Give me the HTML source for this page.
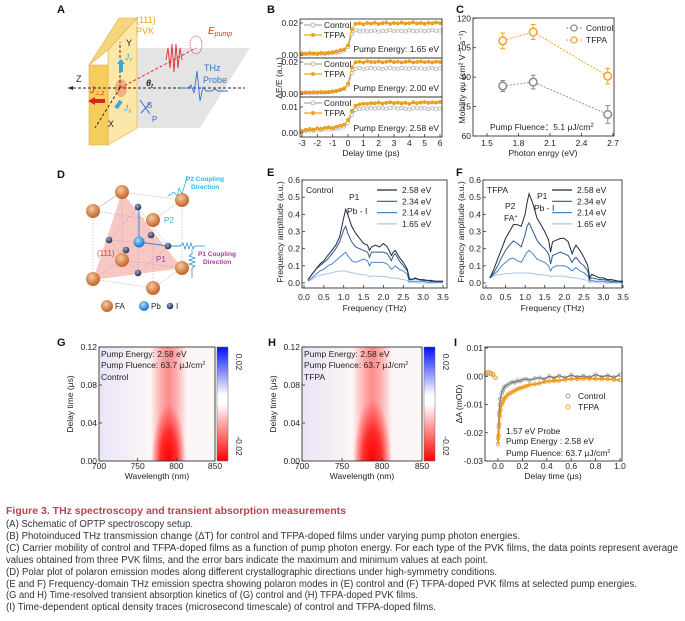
<!DOCTYPE html>
<html><head><meta charset="utf-8"><style>
html,body{margin:0;padding:0;background:#fff;}
svg{display:block;font-family:"Liberation Sans",Arial,sans-serif;}
.t{font-size:8.5px;fill:#222;}
.lab{font-size:11px;font-weight:bold;fill:#111;}
.cap{font-size:9.8px;fill:#333;}
</style></head><body>
<svg id="fig" width="685" height="621" viewBox="0 0 685 621" xmlns="http://www.w3.org/2000/svg">
<defs>
<linearGradient id="cbar" x1="0" y1="0" x2="0" y2="1"><stop offset="0" stop-color="#0010ff"/><stop offset="0.42" stop-color="#ffffff"/><stop offset="0.5" stop-color="#ffffff"/><stop offset="1" stop-color="#ff0000"/></linearGradient>
<linearGradient id="band" x1="0" y1="0" x2="1" y2="0"><stop offset="0" stop-color="#ff2020" stop-opacity="0"/><stop offset="0.3" stop-color="#ff2020" stop-opacity="0.35"/><stop offset="0.5" stop-color="#ff2020" stop-opacity="0.5"/><stop offset="0.7" stop-color="#ff2020" stop-opacity="0.35"/><stop offset="1" stop-color="#ff2020" stop-opacity="0"/></linearGradient>
<radialGradient id="spot" cx="0.5" cy="0.5" r="0.5"><stop offset="0" stop-color="#ff0000" stop-opacity="1"/><stop offset="0.5" stop-color="#ff0808" stop-opacity="0.75"/><stop offset="1" stop-color="#ff2020" stop-opacity="0"/></radialGradient>
<linearGradient id="bluetint" x1="0" y1="0" x2="1" y2="0"><stop offset="0" stop-color="#6060ff" stop-opacity="0.12"/><stop offset="1" stop-color="#6060ff" stop-opacity="0"/></linearGradient>
<radialGradient id="ball" cx="0.4" cy="0.35" r="0.6"><stop offset="0" stop-color="#f7c9a0"/><stop offset="1" stop-color="#c46a2c"/></radialGradient>
<radialGradient id="pb" cx="0.4" cy="0.35" r="0.6"><stop offset="0" stop-color="#a8dcff"/><stop offset="1" stop-color="#1f78c8"/></radialGradient>
<radialGradient id="iball" cx="0.4" cy="0.35" r="0.6"><stop offset="0" stop-color="#9aa8c8"/><stop offset="1" stop-color="#2a3560"/></radialGradient>
<clipPath id="clipG"><rect x="99" y="347" width="116" height="114"/></clipPath>
<clipPath id="clipH"><rect x="302" y="347" width="120" height="114"/></clipPath>
</defs>

<text class="lab" x="57" y="13">A</text>
<text class="lab" x="267" y="13">B</text>
<text class="lab" x="456" y="13">C</text>
<text class="lab" x="57" y="178">D</text>
<text class="lab" x="267" y="176">E</text>
<text class="lab" x="456" y="176">F</text>
<text class="lab" x="57" y="346">G</text>
<text class="lab" x="268" y="346">H</text>
<text class="lab" x="454" y="346">I</text>

<g>
<polygon points="137,48 250,48 200,128 100,128" fill="#e4e4e4"/>
<polygon points="89,65 119,18 137,18 108,50" fill="#f6d67a" stroke="#d9b04a" stroke-width="0.6"/>
<polygon points="108,50 137,18 137,128 108,145" fill="#fde7a8" stroke="#d9b04a" stroke-width="0.6"/>
<rect x="89" y="65" width="19" height="80" fill="#f6cd5c" stroke="#d9b04a" stroke-width="0.6"/>
<ellipse cx="121" cy="88" rx="6" ry="9" fill="#f4a070" opacity="0.8"/>
<line x1="68" y1="88" x2="245" y2="88" stroke="#222" stroke-width="0.9" stroke-dasharray="3,2"/>
<polygon points="68,88 73,86 73,90" fill="#222"/>
<line x1="120" y1="88" x2="120" y2="42" stroke="#222" stroke-width="0.9" stroke-dasharray="3,2"/>
<line x1="120" y1="88" x2="95" y2="128" stroke="#222" stroke-width="0.9" stroke-dasharray="3,2"/>
<line x1="120" y1="88" x2="196" y2="48" stroke="#e03030" stroke-width="1" stroke-dasharray="3,2"/>
<path d="M166,60 l2,-12 l2,20 l2,-24 l2,28 l2,-28 l2,24 l2,-20 l2,12" stroke="#e03030" fill="none" stroke-width="0.9"/>
<ellipse cx="196" cy="45" rx="6" ry="9" fill="none" stroke="#e03030" stroke-width="0.7" stroke-dasharray="1.5,1"/>
<path d="M180,88 l8,0 l3,-3 l3,8 l3,-22 l3,30 l3,-14 l3,4 l6,0 l3,-2 l3,2 l10,0" stroke="#3a6fc4" fill="none" stroke-width="0.9"/>
<rect x="95" y="99" width="10" height="4" fill="#d8261c"/><polygon points="88,101 95,97 95,105" fill="#d8261c"/>
<rect x="119" y="63" width="4" height="9" fill="#35a7d8"/><polygon points="121,59 117,64 125,64" fill="#35a7d8"/>
<line x1="116" y1="108" x2="121" y2="101" stroke="#35a7d8" stroke-width="4"/>
<path d="M140,100 l10,14 M141,113 l9,-10" stroke="#3a6fc4" stroke-width="1" fill="none"/>
<text x="136" y="23" font-size="9" fill="#f0a020">(111)</text>
<text x="136" y="34" font-size="9" fill="#f0a020">PVK</text>
<text x="126" y="46" font-size="9" fill="#222">Y</text>
<text x="76" y="82" font-size="9" fill="#222">Z</text>
<text x="108" y="127" font-size="9" fill="#222">X</text>
<text x="146" y="86" font-size="9" font-style="italic" font-weight="bold" fill="#222">θ<tspan font-size="6" dy="2">t</tspan></text>
<text x="90" y="93" font-size="9" font-style="italic" fill="#d8261c">J<tspan font-size="6" dy="2">⊥,z</tspan></text>
<text x="125" y="60" font-size="8" font-style="italic" fill="#35a7d8">J<tspan font-size="5" dy="2">Y</tspan></text>
<text x="124" y="111" font-size="8" font-style="italic" fill="#35a7d8">J<tspan font-size="5" dy="2">X</tspan></text>
<text x="147" y="108" font-size="8" fill="#3a6fc4">S</text>
<text x="152" y="122" font-size="8" fill="#3a6fc4">P</text>
<text x="204" y="71" font-size="9" fill="#3a6fc4">THz</text>
<text x="203" y="83" font-size="9" fill="#3a6fc4">Probe</text>
<text x="208" y="34" font-size="10" font-style="italic" fill="#e03030">E<tspan font-size="7" dy="2">pump</tspan></text>
</g>

<g>
<polygon points="122,192 93,280 182,268" fill="#f6b8b4" opacity="0.8"/>
<g stroke="#aaa" stroke-width="0.6" stroke-dasharray="1.5,1.5" fill="none">
<path d="M122,192 L182,200 L182,268 L153,288 L93,279 L93,211 Z M122,192 L93,211 M153,220 L182,200 M153,220 L93,211 M153,220 L153,288 M122,260 L93,279 M122,260 L182,268 M122,260 L122,192"/>
<path d="M138,207 L109,240 L138,273 L168,246 Z M126,250 L151,235 M109,240 L168,246 M138,207 L138,273"/>
</g>
<path d="M139,242 L139,207 M139,242 L168,246 L180,246" stroke="#3a8fd8" stroke-width="1" fill="none"/>
<path d="M180,246 l3,-3 l2,6 l2,-6 l2,6 l2,-6 l2,6 l2,-3 l10,0" stroke="#3a8fd8" stroke-width="0.8" fill="none"/>
<path d="M192,250 l0,4 l-3,2 l6,2 l-6,2 l6,2 l-6,2 l6,2 l-3,2 l0,10" stroke="#3a8fd8" stroke-width="0.8" fill="none"/>
<path d="M168,196 l6,-4 l3,4 l2,-8 l3,6 l3,-10 l2,-8" stroke="#35b0e8" stroke-width="0.8" fill="none"/>
<g><circle cx="122" cy="192" r="7" fill="url(#ball)"/><circle cx="93" cy="211" r="7" fill="url(#ball)"/><circle cx="153" cy="220" r="7" fill="url(#ball)"/><circle cx="182" cy="200" r="7" fill="url(#ball)"/><circle cx="122" cy="260" r="7" fill="url(#ball)"/><circle cx="182" cy="268" r="7" fill="url(#ball)"/><circle cx="93" cy="279" r="7" fill="url(#ball)"/><circle cx="153" cy="288" r="7" fill="url(#ball)"/></g>
<circle cx="139" cy="242" r="5.5" fill="url(#pb)"/>
<g><circle cx="138" cy="207" r="3.3" fill="url(#iball)"/><circle cx="109" cy="240" r="3.3" fill="url(#iball)"/><circle cx="126" cy="250" r="3.3" fill="url(#iball)"/><circle cx="151" cy="235" r="3.3" fill="url(#iball)"/><circle cx="168" cy="246" r="3.3" fill="url(#iball)"/><circle cx="138" cy="273" r="3.3" fill="url(#iball)"/></g>
<text x="97" y="256" font-size="8" fill="#d8403a">(111)</text>
<text x="156" y="262" font-size="8" fill="#a040a0">P1</text>
<text x="164" y="223" font-size="8" fill="#35b0e8">P2</text>
<text x="186" y="181" font-size="6.5" font-weight="bold" fill="#35b0e8">P2 Coupling</text>
<text x="191" y="189" font-size="6.5" font-weight="bold" fill="#35b0e8">Direction</text>
<text x="198" y="256" font-size="6.5" font-weight="bold" fill="#a040a0">P1 Coupling</text>
<text x="203" y="264" font-size="6.5" font-weight="bold" fill="#a040a0">Direction</text>
<circle cx="107" cy="306" r="6" fill="url(#ball)"/><text x="115" y="309" font-size="8" fill="#222">FA</text>
<circle cx="144" cy="306" r="5" fill="url(#pb)"/><text x="151" y="309" font-size="8" fill="#222">Pb</text>
<circle cx="170" cy="306" r="3.3" fill="url(#iball)"/><text x="176" y="309" font-size="8" fill="#222">I</text>
</g>

<g id="charts"></g>

<g>
<text x="6" y="514" font-size="10.5" font-weight="bold" fill="#b2464c" textLength="340" lengthAdjust="spacingAndGlyphs">Figure 3.  THz spectroscopy and transient absorption measurements</text>
<text class="cap" x="6" y="527" textLength="187" lengthAdjust="spacingAndGlyphs">(A) Schematic of OPTP spectroscopy setup.</text>
<text class="cap" x="6" y="539" textLength="514" lengthAdjust="spacingAndGlyphs">(B) Photoinduced THz transmission change (ΔT) for control and TFPA-doped films under varying pump photon energies.</text>
<text class="cap" x="6" y="551" textLength="672" lengthAdjust="spacingAndGlyphs">(C) Carrier mobility of control and TFPA-doped films as a function of pump photon energy. For each type of the PVK films, the data points represent average</text>
<text class="cap" x="6" y="563" textLength="482" lengthAdjust="spacingAndGlyphs">values obtained from three PVK films, and the error bars indicate the maximum and minimum values at each point.</text>
<text class="cap" x="6" y="575" textLength="491" lengthAdjust="spacingAndGlyphs">(D) Polar plot of polaron emission modes along different crystallographic directions under high-symmetry conditions.</text>
<text class="cap" x="6" y="587" textLength="631" lengthAdjust="spacingAndGlyphs">(E and F) Frequency-domain THz emission spectra showing polaron modes in (E) control and (F) TFPA-doped PVK films at selected pump energies.</text>
<text class="cap" x="6" y="598" textLength="412" lengthAdjust="spacingAndGlyphs">(G and H) Time-resolved transient absorption kinetics of (G) control and (H) TFPA-doped PVK films.</text>
<text class="cap" x="6" y="610" textLength="430" lengthAdjust="spacingAndGlyphs">(I) Time-dependent optical density traces (microsecond timescale) of control and TFPA-doped films.</text>
</g>
</svg>

<script>
// ---------- Panel B data ----------
const bTimes = [-3,-2.75,-2.5,-2.25,-2,-1.75,-1.5,-1.25,-1,-0.75,-0.5,-0.25,0,0.25,0.5,0.75,1,1.25,1.5,1.75,2,2.25,2.5,2.75,3,3.25,3.5,3.75,4,4.25,4.5,4.75,5,5.25,5.5,5.75,6];
const bXTicks = [-3,-2,-1,0,1,2,3,4,5,6];
const bEnergies = ["1.65 eV","2.00 eV","2.58 eV"];
const bTfpa165 = [0.001,0.0008,0.0012,0.001,0.0009,0.0013,0.0011,0.0015,0.0018,0.0022,0.003,0.0035,0.006,0.016,0.0195,0.0198,0.0192,0.02,0.0196,0.0201,0.0194,0.0199,0.0203,0.0195,0.02,0.0197,0.0202,0.0196,0.0199,0.0204,0.0197,0.02,0.0195,0.0201,0.0198,0.0203,0.0199];
const bCtrl165 = [0.0005,0.0007,0.0004,0.0008,0.0006,0.0009,0.0007,0.001,0.0012,0.0015,0.002,0.0028,0.005,0.013,0.0155,0.0148,0.0152,0.0147,0.015,0.0153,0.0146,0.0151,0.0149,0.0155,0.0148,0.0152,0.015,0.0147,0.0154,0.0151,0.0148,0.0153,0.0149,0.0152,0.0156,0.015,0.0153];
const bTfpa200 = [0.0008,0.001,0.0009,0.0011,0.001,0.0012,0.0011,0.0013,0.0016,0.002,0.0028,0.0036,0.0065,0.0165,0.0198,0.0202,0.0197,0.0204,0.02,0.0199,0.0203,0.0198,0.0201,0.0205,0.0199,0.0202,0.0197,0.0201,0.0204,0.0198,0.02,0.0203,0.0199,0.0201,0.0197,0.0202,0.02];
const bCtrl200 = [0.0006,0.0008,0.0007,0.0009,0.0008,0.001,0.0009,0.0011,0.0014,0.0018,0.0025,0.0032,0.0055,0.013,0.0158,0.0162,0.0157,0.016,0.0163,0.0158,0.0161,0.0156,0.016,0.0164,0.0159,0.0157,0.0162,0.016,0.0158,0.0163,0.0159,0.0161,0.0157,0.016,0.0162,0.0158,0.016];
const bTfpa258 = [0.0008,0.0012,0.0015,0.0013,0.0018,0.0016,0.002,0.0022,0.0019,0.0024,0.0028,0.0032,0.005,0.0085,0.0105,0.011,0.0113,0.0112,0.0115,0.0114,0.0117,0.0113,0.0116,0.0118,0.0115,0.0117,0.0114,0.0116,0.0112,0.0118,0.0115,0.0117,0.0119,0.0116,0.0118,0.0117,0.0119];
const bCtrl258 = [0.0006,0.0008,0.001,0.0009,0.0012,0.0011,0.0013,0.0015,0.0014,0.0017,0.002,0.0025,0.004,0.007,0.0088,0.0092,0.0095,0.0093,0.0096,0.0094,0.0097,0.0095,0.0093,0.0096,0.0098,0.0094,0.0096,0.0093,0.0091,0.0095,0.0097,0.0094,0.0096,0.0092,0.0095,0.0093,0.0094];

// ---------- Panel C data ----------
const cEnergy = [1.65,1.94,2.65];
const cTfpa = [108.5,113,90.5];
const cTfpaErr = [4,3.8,4];
const cCtrl = [85.5,87.5,71];
const cCtrlErr = [2.8,3.5,4.5];
const cXTicks = [1.5,1.8,2.1,2.4,2.7];
const cYTicks = [60,75,90,105,120];

// ---------- Panels E/F data ----------
const freq = [0.1,0.2,0.3,0.4,0.5,0.6,0.7,0.8,0.9,1.0,1.05,1.1,1.2,1.3,1.4,1.5,1.6,1.65,1.7,1.8,1.9,2.0,2.1,2.2,2.25,2.3,2.4,2.5,2.6,2.65,2.7,2.8,2.9,3.0,3.1,3.2,3.3,3.4,3.5];
const specLabels = ["2.58 eV","2.34 eV","2.14 eV","1.65 eV"];
const eCtrl258 = [0.02,0.05,0.08,0.11,0.13,0.16,0.19,0.22,0.27,0.38,0.43,0.40,0.33,0.29,0.26,0.23,0.22,0.19,0.21,0.22,0.21,0.23,0.21,0.16,0.18,0.19,0.15,0.12,0.08,0.03,0.02,0.03,0.02,0.02,0.015,0.015,0.01,0.01,0.01];
const eCtrl234 = [0.02,0.05,0.08,0.10,0.12,0.14,0.17,0.20,0.24,0.31,0.33,0.29,0.24,0.21,0.20,0.19,0.18,0.15,0.18,0.18,0.18,0.18,0.17,0.13,0.16,0.17,0.13,0.10,0.07,0.02,0.02,0.025,0.02,0.015,0.015,0.01,0.01,0.01,0.01];
const eCtrl214 = [0.01,0.03,0.05,0.07,0.08,0.10,0.11,0.13,0.15,0.17,0.18,0.16,0.13,0.12,0.13,0.14,0.13,0.10,0.12,0.12,0.12,0.12,0.11,0.08,0.09,0.10,0.08,0.07,0.05,0.01,0.01,0.01,0.01,0.01,0.005,0.005,0.005,0.005,0.005];
const eCtrl165 = [0.01,0.02,0.035,0.045,0.05,0.055,0.06,0.065,0.068,0.07,0.07,0.065,0.06,0.055,0.05,0.048,0.045,0.035,0.04,0.04,0.038,0.04,0.035,0.03,0.03,0.03,0.025,0.02,0.015,0.0,0.005,0.005,0.0,0.0,0.0,0.0,0.0,0.0,0.0];
const fTfpa258 = [0.03,0.08,0.14,0.20,0.26,0.30,0.34,0.34,0.33,0.40,0.47,0.52,0.46,0.38,0.34,0.30,0.25,0.18,0.24,0.25,0.26,0.26,0.24,0.17,0.20,0.22,0.19,0.15,0.10,0.03,0.05,0.04,0.03,0.03,0.02,0.02,0.015,0.01,0.01];
const fTfpa234 = [0.03,0.06,0.10,0.15,0.19,0.22,0.245,0.23,0.21,0.28,0.33,0.35,0.30,0.25,0.22,0.20,0.17,0.11,0.16,0.17,0.18,0.17,0.16,0.12,0.14,0.15,0.12,0.10,0.07,0.02,0.03,0.025,0.02,0.02,0.015,0.01,0.01,0.01,0.01];
const fTfpa214 = [0.03,0.05,0.07,0.10,0.12,0.14,0.145,0.13,0.12,0.16,0.18,0.19,0.17,0.14,0.13,0.12,0.10,0.07,0.09,0.10,0.10,0.10,0.09,0.07,0.08,0.09,0.07,0.06,0.04,0.01,0.015,0.01,0.01,0.01,0.005,0.005,0.005,0.005,0.005];
const fTfpa165 = [0.03,0.04,0.05,0.05,0.055,0.055,0.058,0.058,0.058,0.058,0.058,0.058,0.055,0.05,0.048,0.046,0.044,0.035,0.04,0.04,0.04,0.04,0.035,0.03,0.03,0.03,0.025,0.02,0.015,0.0,0.005,0.005,0.0,0.0,0.0,0.0,0.0,0.0,0.0];
const efXTicks = [0,0.5,1,1.5,2,2.5,3,3.5];
const efYTicks = [0,0.1,0.2,0.3,0.4,0.5,0.6];

// ---------- Panels G/H data ----------
const ghXTicks = [700,750,800,850];
const ghYTicks = [0,0.04,0.08,0.12];
const bandCenterNm = [790,788];
const bandHalfWidthNm = [24,25];
const spotHalfWidthNm = [22,24];
const spotHeightUs = [0.06,0.065];

// ---------- Panel I data ----------
const iTimes = [-0.1,-0.08,-0.06,-0.04,-0.02,0,0.005,0.01,0.015,0.02,0.03,0.04,0.05,0.06,0.08,0.1,0.12,0.14,0.16,0.18,0.2,0.23,0.26,0.3,0.34,0.38,0.42,0.46,0.5,0.55,0.6,0.65,0.7,0.75,0.8,0.85,0.9,0.95,1.0];
const iCtrl = [0.0005,0.001,0.0008,0.0003,-0.0005,-0.022,-0.018,-0.013,-0.01,-0.008,-0.006,-0.005,-0.004,-0.0035,-0.003,-0.0025,-0.002,-0.0022,-0.0015,-0.0018,-0.0012,-0.001,-0.0014,-0.0008,-0.0005,-0.001,0.0,-0.0006,0.0002,-0.0005,0.0004,-0.0003,0.0001,-0.0004,0.0006,-0.0002,0.0003,-0.0004,0.0005];
const iTfpa = [0.001,0.0015,0.0012,0.0008,-0.0005,-0.024,-0.021,-0.017,-0.014,-0.012,-0.010,-0.009,-0.008,-0.0075,-0.0065,-0.006,-0.0055,-0.005,-0.0045,-0.0042,-0.004,-0.0035,-0.003,-0.0028,-0.0025,-0.002,-0.0018,-0.0016,-0.0015,-0.0012,-0.001,-0.0009,-0.0008,-0.0008,-0.0009,-0.001,-0.001,-0.0012,-0.0014];
const iXTicks = [0,0.2,0.4,0.6,0.8,1.0];
const iYTicks = [0.01,0,-0.01,-0.02,-0.03];

const NS = "http://www.w3.org/2000/svg";
const root = document.getElementById("charts");
const ORANGE = "#f4a21e", GREY = "#9a9a9a";
function mk(tag, attrs, parent, name){
  const e = document.createElementNS(NS, tag);
  for (const k in attrs) e.setAttribute(k, attrs[k]);
  
  
  (parent||root).appendChild(e);
  return e;
}
function txt(s, x, y, parent, name, extra){
  const a = Object.assign({x:x, y:y, class:"t"}, extra||{});
  const e = mk("text", a, parent, name);
  e.textContent = s;
  return e;
}
function lin(d0,d1,r0,r1){ return v => r0 + (v-d0)*(r1-r0)/(d1-d0); }
function poly(xs, ys, sx, sy, parent, name, stroke, w, dash){
  const pts = xs.map((v,i)=>sx(v).toFixed(1)+","+sy(ys[i]).toFixed(1)).join(" ");
  const a = {points:pts, fill:"none", stroke:stroke, "stroke-width":w};
  if (dash) a["stroke-dasharray"] = dash;
  return mk("polyline", a, parent, name);
}
function frame(x0,y0,x1,y1,parent,name){
  return mk("rect",{x:x0,y:y0,width:x1-x0,height:y1-y0,fill:"none",stroke:"#333","stroke-width":0.9},parent,name);
}
function fmt(v,d){ return v.toFixed(d); }

// ================= Panel B =================
(function(){
  const g = mk("g",{},root,"panel-b-thz-transmission");
  const X0=300, X1=442;
  const sx = lin(-3,6,302,440);
  const subs = [
    {top:19,bot:58,y0:55,k:1600,ticks:[0,0.02],t:bTfpa165,c:bCtrl165},
    {top:58,bot:97,y0:94,k:1600,ticks:[0,0.02],t:bTfpa200,c:bCtrl200},
    {top:97,bot:137,y0:133,k:2600,ticks:[0,0.01],t:bTfpa258,c:bCtrl258}
  ];
  subs.forEach((s,si)=>{
    const sg = mk("g",{},g,"b-subplot-"+(si+1));
    const sy = v => s.y0 - v*s.k;
    poly(bTimes, s.c, sx, sy, sg, "b-control-line", GREY, 0.8);
    bTimes.forEach((t,i)=>{
      mk("circle",{cx:sx(t),cy:sy(s.c[i]),r:1.7,fill:"#fff",stroke:"#b0b0b0","stroke-width":0.7},sg,"b-control-point");
    });
    poly(bTimes, s.t, sx, sy, sg, "b-tfpa-line", ORANGE, 0.9);
    bTimes.forEach((t,i)=>{
      mk("circle",{cx:sx(t),cy:sy(s.t[i]),r:1.7,fill:ORANGE,stroke:"#e08a00","stroke-width":0.5},sg,"b-tfpa-point");
    });
    frame(X0,s.top,X1,s.bot,sg,"b-subplot-frame");
    s.ticks.forEach(v=>{
      mk("line",{x1:X0,x2:X0+3,y1:sy(v),y2:sy(v),stroke:"#333","stroke-width":0.8},sg,"b-y-tick");
      txt(fmt(v,2), X0-2, sy(v)+3, sg, "b-y-tick-label", {"text-anchor":"end"});
    });
    const ly = s.top+6, ly2 = s.top+16;
    mk("line",{x1:304,x2:322,y1:ly,y2:ly,stroke:GREY,"stroke-width":1},sg,"b-legend-control-line");
    mk("circle",{cx:313,cy:ly,r:2,fill:"#fff",stroke:"#aaa","stroke-width":0.8},sg,"b-legend-control-marker");
    txt("Control",324,ly+3,sg,"b-legend-control");
    mk("line",{x1:304,x2:322,y1:ly2,y2:ly2,stroke:ORANGE,"stroke-width":1.2},sg,"b-legend-tfpa-line");
    mk("circle",{cx:313,cy:ly2,r:2,fill:ORANGE},sg,"b-legend-tfpa-marker");
    txt("TFPA",324,ly2+3,sg,"b-legend-tfpa");
    txt("Pump Energy: "+bEnergies[si],439,s.bot-6,sg,"b-pump-energy-label",{"text-anchor":"end"});
  });
  bXTicks.forEach(v=>{
    mk("line",{x1:sx(v),x2:sx(v),y1:137,y2:134,stroke:"#333","stroke-width":0.8},g,"b-x-tick");
    txt(String(v), sx(v), 146, g, "b-x-tick-label", {"text-anchor":"middle"});
  });
  txt("Delay time (ps)",371,156,g,"b-x-axis-title",{"text-anchor":"middle","font-size":"9"});
  txt("ΔE/E (a.u.)",0,0,g,"b-y-axis-title",{"text-anchor":"middle","font-size":"9",transform:"translate(282,78) rotate(-90)"});
})();

// ================= Panel C =================
(function(){
  const g = mk("g",{},root,"panel-c-mobility");
  const X0=473, X1=614, Y0=18, Y1=136;
  const sx = lin(1.5,2.7,487,613);
  const sy = lin(60,120,136,18.3);
  function series(vals, errs, color, name){
    poly(cEnergy, vals, sx, sy, g, name+"-line", color, 0.9, "2,1.5");
    cEnergy.forEach((e,i)=>{
      const x=sx(e);
      mk("line",{x1:x,x2:x,y1:sy(vals[i]+errs[i]),y2:sy(vals[i]-errs[i]),stroke:color,"stroke-width":1},g,name+"-error-bar");
      mk("line",{x1:x-2.5,x2:x+2.5,y1:sy(vals[i]+errs[i]),y2:sy(vals[i]+errs[i]),stroke:color,"stroke-width":1},g,name+"-error-cap");
      mk("line",{x1:x-2.5,x2:x+2.5,y1:sy(vals[i]-errs[i]),y2:sy(vals[i]-errs[i]),stroke:color,"stroke-width":1},g,name+"-error-cap");
      mk("circle",{cx:x,cy:sy(vals[i]),r:3.8,fill:"#fff",stroke:color,"stroke-width":1.5},g,name+"-point");
    });
  }
  series(cCtrl,cCtrlErr,"#8a8a8a","c-control");
  series(cTfpa,cTfpaErr,ORANGE,"c-tfpa");
  frame(X0,Y0,X1,Y1,g,"c-plot-frame");
  cXTicks.forEach(v=>{
    mk("line",{x1:sx(v),x2:sx(v),y1:Y1,y2:Y1-3,stroke:"#333","stroke-width":0.8},g,"c-x-tick");
    txt(fmt(v,1),sx(v),146,g,"c-x-tick-label",{"text-anchor":"middle"});
  });
  cYTicks.forEach(v=>{
    mk("line",{x1:X0,x2:X0+3,y1:sy(v),y2:sy(v),stroke:"#333","stroke-width":0.8},g,"c-y-tick");
    txt(String(v),X0-2,sy(v)+3,g,"c-y-tick-label",{"text-anchor":"end"});
  });
  mk("line",{x1:566,x2:582,y1:28,y2:28,stroke:"#8a8a8a","stroke-width":0.9,"stroke-dasharray":"2,1.5"},g,"c-legend-control-line");
  mk("circle",{cx:574,cy:28,r:3,fill:"#fff",stroke:"#8a8a8a","stroke-width":1.2},g,"c-legend-control-marker");
  txt("Control",586,31,g,"c-legend-control");
  mk("line",{x1:566,x2:582,y1:40,y2:40,stroke:ORANGE,"stroke-width":0.9,"stroke-dasharray":"2,1.5"},g,"c-legend-tfpa-line");
  mk("circle",{cx:574,cy:40,r:3,fill:"#fff",stroke:ORANGE,"stroke-width":1.2},g,"c-legend-tfpa-marker");
  txt("TFPA",586,43,g,"c-legend-tfpa");
  const pf = txt("Pump Fluence：5.1 μJ/cm",490,130,g,"c-pump-fluence-label");
  const sup = document.createElementNS(NS,"tspan"); sup.setAttribute("dy","-3"); sup.setAttribute("font-size","6"); sup.textContent="2"; pf.appendChild(sup);
  txt("Photon enrgy (eV)",543,156,g,"c-x-axis-title",{"text-anchor":"middle","font-size":"9"});
  txt("Mobility φμ (cm² V⁻¹ s⁻¹)",0,0,g,"c-y-axis-title",{"text-anchor":"middle","font-size":"8.5",transform:"translate(465,77) rotate(-90)"});
})();

// ================= Panels E & F =================
function specPanel(name, X0, X1, xZero, xMax, series, title, annots){
  const g = mk("g",{},root,name);
  const Y0=180, Y1=288;
  const sx = lin(0,3.5,xZero,xMax);
  const sy = lin(0,0.6,283,180);
  const colors = ["#1c2a3f","#2d5a8e","#4a86c5","#a9c6e6"];
  for (let k=series.length-1;k>=0;k--){
    poly(freq, series[k], sx, sy, g, "spectrum-"+specLabels[k].replace(/[ .]/g,""), colors[k], 1);
  }
  frame(X0,Y0,X1,Y1,g,"plot-frame");
  efXTicks.forEach(v=>{
    mk("line",{x1:sx(v),x2:sx(v),y1:Y1,y2:Y1-3,stroke:"#333","stroke-width":0.8},g,"x-tick");
    txt(fmt(v,1),sx(v),300,g,"x-tick-label",{"text-anchor":"middle"});
  });
  efYTicks.forEach(v=>{
    mk("line",{x1:X0,x2:X0+3,y1:sy(v),y2:sy(v),stroke:"#333","stroke-width":0.8},g,"y-tick");
    txt(fmt(v,1),X0-2,sy(v)+3,g,"y-tick-label",{"text-anchor":"end"});
  });
  specLabels.forEach((l,k)=>{
    const y = 190 + k*11.3;
    const lx = X1-70;
    mk("line",{x1:lx,x2:lx+20,y1:y,y2:y,stroke:colors[k],"stroke-width":1.2},g,"legend-line");
    txt(l,lx+25,y+3,g,"legend-entry");
  });
  txt(title,X0+4,193,g,"sample-label");
  annots.forEach(a=>{
    const e = txt(a[0],a[1],a[2],g,"peak-annotation");
    if (a[3]){ const s=document.createElementNS(NS,"tspan"); s.setAttribute("dy","-3"); s.setAttribute("font-size","5.5"); s.textContent=a[3]; e.appendChild(s); }
  });
  txt("Frequency (THz)",(X0+X1)/2,311,g,"x-axis-title",{"text-anchor":"middle","font-size":"9"});
  txt("Frequency amplitude (a.u.)",0,0,g,"y-axis-title",{"text-anchor":"middle","font-size":"8.5",transform:"translate("+(X0-19)+",232) rotate(-90)"});
}
specPanel("panel-e-control-spectra",302,447,304,443,[eCtrl258,eCtrl234,eCtrl214,eCtrl165],"Control",[["P1",349,200],["Pb - I",347,214]]);
specPanel("panel-f-tfpa-spectra",483,622,486,623,[fTfpa258,fTfpa234,fTfpa214,fTfpa165],"TFPA",[["P2",505,209],["FA",504,221,"+"],["P1",537,199],["Pb - I",534,211]]);

// ================= Panels G & H =================
function heatPanel(name, idx, X0, X1, label, clip){
  const g = mk("g",{},root,name);
  const Y0=347, Y1=461;
  const sx = lin(700,850,X0,X1);
  const sy = lin(0,0.12,Y1,Y0);
  mk("rect",{x:X0,y:Y0,width:X1-X0,height:Y1-Y0,fill:"#fcf6f6"},g,"heatmap-background");
  mk("rect",{x:X0,y:Y0,width:sx(765)-X0,height:Y1-Y0,fill:"url(#bluetint)"},g,"heatmap-negative-region");
  const hg = mk("g",{"clip-path":"url(#"+clip+")"},g,"heatmap-signal");
  const c = bandCenterNm[idx], hw = bandHalfWidthNm[idx];
  mk("rect",{x:sx(c-hw),y:Y0,width:sx(c+hw)-sx(c-hw),height:Y1-Y0,fill:"url(#band)"},hg,"heatmap-bleach-band");
  const sw = spotHalfWidthNm[idx], sh = spotHeightUs[idx];
  mk("ellipse",{cx:sx(c),cy:Y1,rx:sx(c+sw)-sx(c),ry:Y1-sy(sh),fill:"url(#spot)"},hg,"heatmap-bleach-peak");
  frame(X0,Y0,X1,Y1,g,"heatmap-frame");
  const cb = X1+2;
  mk("rect",{x:cb,y:Y0,width:11,height:Y1-Y0,fill:"url(#cbar)",stroke:"#666","stroke-width":0.5},g,"colorbar");
  txt("0.02",0,0,g,"colorbar-max-label",{"text-anchor":"middle",transform:"translate("+(cb+19)+",362) rotate(90)"});
  txt("-0.02",0,0,g,"colorbar-min-label",{"text-anchor":"middle",transform:"translate("+(cb+19)+",446) rotate(90)"});
  ghXTicks.forEach(v=>{
    mk("line",{x1:sx(v),x2:sx(v),y1:Y1,y2:Y1-3,stroke:"#333","stroke-width":0.8},g,"x-tick");
    txt(String(v),sx(v),469,g,"x-tick-label",{"text-anchor":"middle"});
  });
  ghYTicks.forEach(v=>{
    mk("line",{x1:X0,x2:X0+3,y1:sy(v),y2:sy(v),stroke:"#333","stroke-width":0.8},g,"y-tick");
    txt(fmt(v,2),X0-2,sy(v)+3,g,"y-tick-label",{"text-anchor":"end"});
  });
  txt("Pump Energy: 2.58 eV",X0+2,357,g,"pump-energy-label");
  const pf = txt("Pump Fluence: 63.7 μJ/cm",X0+2,368,g,"pump-fluence-label");
  const s=document.createElementNS(NS,"tspan"); s.setAttribute("dy","-3"); s.setAttribute("font-size","5.5"); s.textContent="2"; pf.appendChild(s);
  txt(label,X0+2,380,g,"sample-label");
  txt("Wavelength (nm)",(X0+X1)/2,479,g,"x-axis-title",{"text-anchor":"middle","font-size":"9"});
  txt("Delay time (μs)",0,0,g,"y-axis-title",{"text-anchor":"middle","font-size":"9",transform:"translate("+(X0-26)+",404) rotate(-90)"});
}
heatPanel("panel-g-control-heatmap",0,99,215,"Control","clipG");
heatPanel("panel-h-tfpa-heatmap",1,302,422,"TFPA","clipH");

// ================= Panel I =================
(function(){
  const g = mk("g",{},root,"panel-i-optical-density");
  const X0=485, X1=622, Y0=347, Y1=461;
  const sx = lin(0,1,498,620);
  const sy = lin(0.01,-0.03,348,461);
  iTimes.forEach((t,i)=>{
    mk("circle",{cx:sx(t),cy:sy(iCtrl[i]),r:1.8,fill:"none",stroke:"#a8a8a8","stroke-width":0.8},g,"i-control-point");
  });
  iTimes.forEach((t,i)=>{
    mk("circle",{cx:sx(t),cy:sy(iTfpa[i]),r:1.8,fill:"none",stroke:ORANGE,"stroke-width":0.9},g,"i-tfpa-point");
  });
  poly(iTimes.slice(5), iCtrl.slice(5), sx, sy, g, "i-control-fit", "#7a7a7a", 1.4);
  poly(iTimes.slice(5), iTfpa.slice(5), sx, sy, g, "i-tfpa-fit", "#f09010", 1.6);
  frame(X0,Y0,X1,Y1,g,"i-plot-frame");
  iXTicks.forEach(v=>{
    mk("line",{x1:sx(v),x2:sx(v),y1:Y1,y2:Y1-3,stroke:"#333","stroke-width":0.8},g,"i-x-tick");
    txt(fmt(v,1),sx(v),469,g,"i-x-tick-label",{"text-anchor":"middle"});
  });
  iYTicks.forEach(v=>{
    mk("line",{x1:X0,x2:X0+3,y1:sy(v),y2:sy(v),stroke:"#333","stroke-width":0.8},g,"i-y-tick");
    txt(fmt(v,2),X0-2,sy(v)+3,g,"i-y-tick-label",{"text-anchor":"end"});
  });
  mk("circle",{cx:568,cy:396,r:2,fill:"none",stroke:"#999","stroke-width":0.9},g,"i-legend-control-marker");
  txt("Control",578,399,g,"i-legend-control");
  mk("circle",{cx:568,cy:407,r:2,fill:"none",stroke:ORANGE,"stroke-width":0.9},g,"i-legend-tfpa-marker");
  txt("TFPA",578,410,g,"i-legend-tfpa");
  txt("1.57 eV Probe",506,434,g,"i-probe-label");
  txt("Pump Energy : 2.58 eV",506,444,g,"i-pump-energy-label");
  const pf = txt("Pump Fluence: 63.7 μJ/cm",506,456,g,"i-pump-fluence-label");
  const s=document.createElementNS(NS,"tspan"); s.setAttribute("dy","-3"); s.setAttribute("font-size","5.5"); s.textContent="2"; pf.appendChild(s);
  txt("Delay time (μs)",553,479,g,"i-x-axis-title",{"text-anchor":"middle","font-size":"9"});
  txt("ΔA (mOD)",0,0,g,"i-y-axis-title",{"text-anchor":"middle","font-size":"9",transform:"translate(462,404) rotate(-90)"});
})();
</script>
</body></html>
